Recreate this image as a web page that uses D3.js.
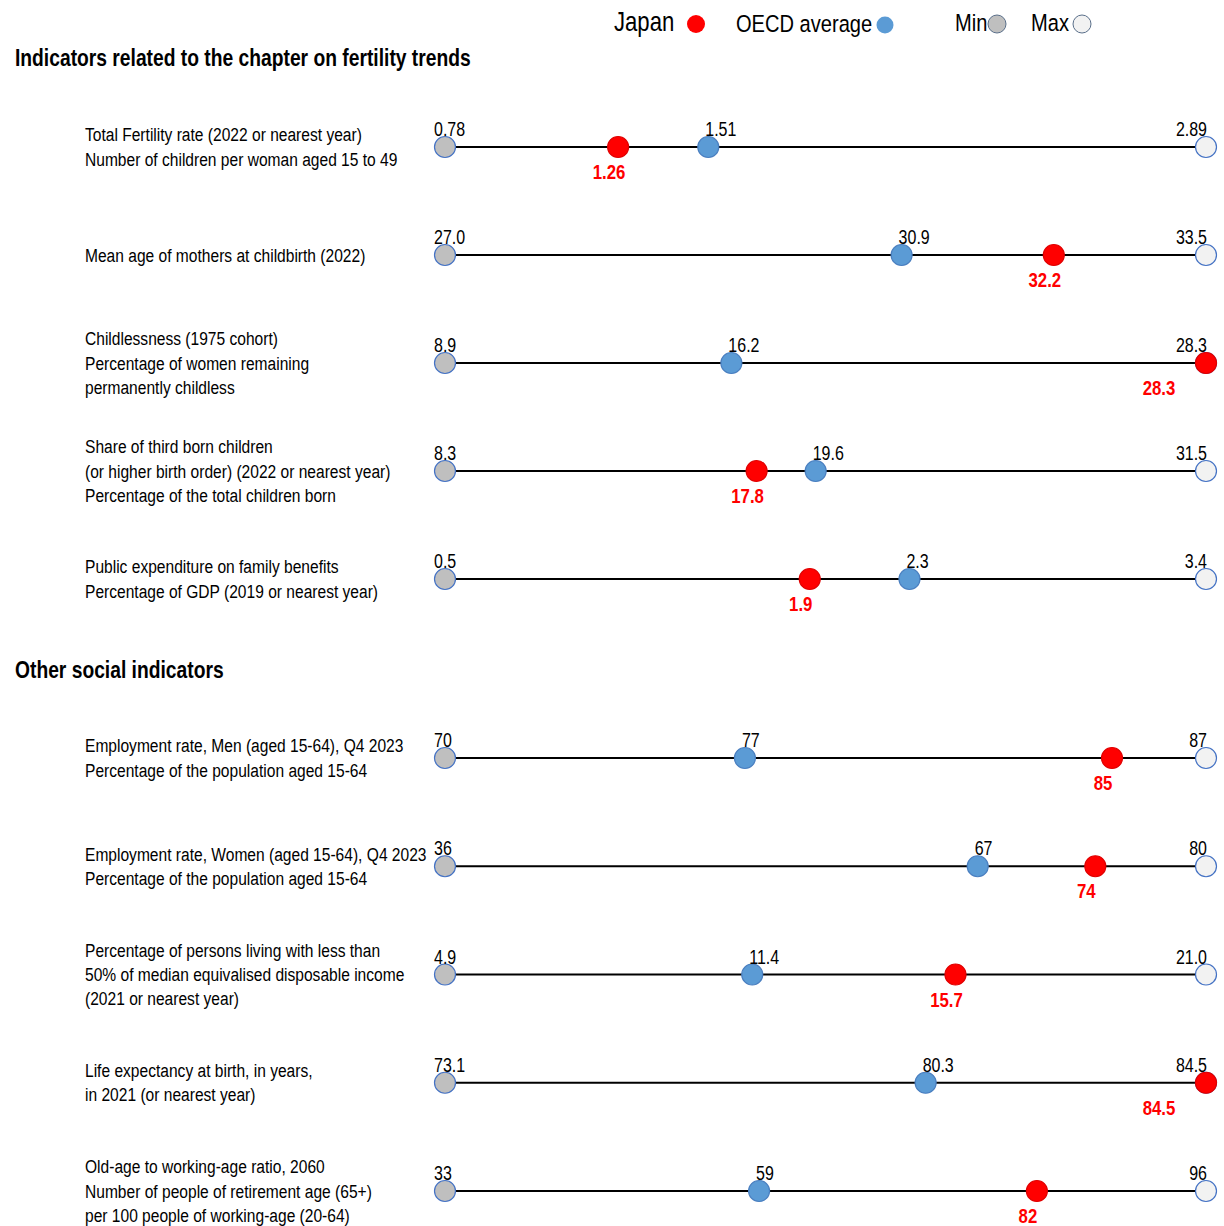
<!DOCTYPE html>
<html><head><meta charset="utf-8">
<script src="https://cdn.jsdelivr.net/npm/d3@7"></script>
<style>
body{margin:0;background:#fff;}
text{font-family:"Liberation Sans",Arial,sans-serif;}
</style></head>
<body><svg id="c" width="1224" height="1226"></svg>
<script>
const sectionTitles = ["Indicators related to the chapter on fertility trends", "Other social indicators"];
const indicatorLabels = [
  ["Total Fertility rate (2022 or nearest year)", "Number of children per woman aged 15 to 49"],
  ["Mean age of mothers at childbirth (2022)"],
  ["Childlessness (1975 cohort)", "Percentage of women remaining", "permanently childless"],
  ["Share of third born children", "(or higher birth order) (2022 or nearest year)", "Percentage of the total children born"],
  ["Public expenditure on family benefits", "Percentage of GDP (2019 or nearest year)"],
  ["Employment rate, Men (aged 15-64), Q4 2023", "Percentage of the population aged 15-64"],
  ["Employment rate, Women (aged 15-64), Q4 2023", "Percentage of the population aged 15-64"],
  ["Percentage of persons living with less than", "50% of median equivalised disposable income", "(2021 or nearest year)"],
  ["Life expectancy at birth, in years,", "in 2021 (or nearest year)"],
  ["Old-age to working-age ratio, 2060", "Number of people of retirement age (65+)", "per 100 people of working-age (20-64)"]
];
const minValues   = [0.78, 27.0, 8.9, 8.3, 0.5, 70, 36, 4.9, 73.1, 33];
const maxValues   = [2.89, 33.5, 28.3, 31.5, 3.4, 87, 80, 21.0, 84.5, 96];
const oecdValues  = [1.51, 30.9, 16.2, 19.6, 2.27, 76.7, 66.8, 11.4, 80.3, 59];
const japanValues = [1.26, 32.2, 28.3, 17.8, 1.89, 84.9, 73.6, 15.7, 84.5, 82];
const valueFormats = [".2f", ".1f", ".1f", ".1f", ".1f", ".0f", ".0f", ".1f", ".1f", ".0f"];
const legendItems = ["Japan", "OECD average", "Min", "Max"];

const COL = {japan:"#ff0000", oecd:"#5b9bd5", min:"#bfbfbf", max:"#f2f2f2", stroke:"#4472c4"};
const NARROW = 0.82;
const svg = d3.select("#c");

// condensed text helper (Arial Narrow ≈ Arial scaled horizontally)
function ntext(g, x, y, str, size, opts = {}) {
  return g.append("text")
    .attr("transform", `translate(${x},${y}) scale(${NARROW},1)`)
    .attr("font-size", size)
    .attr("font-weight", opts.bold ? "bold" : "normal")
    .attr("text-anchor", opts.anchor || "start")
    .attr("fill", opts.fill || "#000")
    .text(str);
}

const rowY = d3.scaleLinear().domain([0,4]).range([147, 579]);
const rowY2 = d3.scaleLinear().domain([5,9]).range([758, 1191]);
const yOf = i => i < 5 ? rowY(i) : rowY2(i);
const sectionY = [58, 670];

// legend
const leg = svg.append("g");
ntext(leg, 614, 31, legendItems[0], 27);
leg.append("circle").attr("cx", 696).attr("cy", 24).attr("r", 9).attr("fill", COL.japan);
ntext(leg, 736, 32, legendItems[1], 24.5);
leg.append("circle").attr("cx", 885).attr("cy", 25).attr("r", 8.5).attr("fill", COL.oecd);
ntext(leg, 955, 31, legendItems[2], 24.5);
leg.append("circle").attr("cx", 997).attr("cy", 24).attr("r", 9).attr("fill", COL.min).attr("stroke", "#5a6f8a").attr("stroke-width", 1);
ntext(leg, 1031, 31, legendItems[3], 24.5);
leg.append("circle").attr("cx", 1082).attr("cy", 24).attr("r", 9).attr("fill", COL.max).attr("stroke", "#5a6f8a").attr("stroke-width", 1);

// section titles
sectionTitles.forEach((t, i) => ntext(svg, 15, sectionY[i] + 8, t, 23.5, {bold:true}));

const X0 = 445, X1 = 1206;
const rows = svg.selectAll("g.row").data(indicatorLabels).join("g").attr("class","row")
  .attr("transform", (d,i) => `translate(0,${yOf(i)})`);

rows.each(function(lines, i) {
  const g = d3.select(this);
  const x = d3.scaleLinear().domain([minValues[i], maxValues[i]]).range([X0, X1]);
  const fmt = d3.format(valueFormats[i]);
  const lh = 24.3;
  const off = -(lines.length - 1) * lh / 2;
  lines.forEach((s, k) => ntext(g, 85, off + k*lh + 6.5, s, 19));

  g.append("line").attr("x1", x(minValues[i])).attr("x2", x(maxValues[i]))
    .attr("y1", 0).attr("y2", 0).attr("stroke", "#000").attr("stroke-width", 2);

  const marks = [
    {v:minValues[i], fill:COL.min, stroke:COL.stroke},
    {v:maxValues[i], fill:COL.max, stroke:COL.stroke},
    {v:oecdValues[i], fill:COL.oecd, stroke:"#4a7fc0"},
    {v:japanValues[i], fill:COL.japan, stroke:"#e00000"}
  ];
  g.selectAll("circle").data(marks).join("circle")
    .attr("cx", d => x(d.v)).attr("cy", 0).attr("r", 10.5)
    .attr("fill", d => d.fill).attr("stroke", d => d.stroke).attr("stroke-width", 1.2);

  ntext(g, x(minValues[i]) - 11, -11, fmt(minValues[i]), 19.5);
  ntext(g, x(maxValues[i]) + 1, -11, fmt(maxValues[i]), 19.5, {anchor:"end"});
  ntext(g, x(oecdValues[i]) - 3, -11, fmt(oecdValues[i]), 19.5);
  ntext(g, Math.min(x(japanValues[i]) - 9, 1159), 32, fmt(japanValues[i]), 20.5, {bold:true, anchor:"middle", fill:COL.japan});
});
</script></body></html>
